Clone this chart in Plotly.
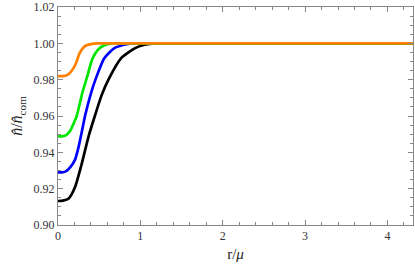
import plotly.graph_objects as go

# Curves: r/mu and n/n_com
r_orange = [0, 0.06, 0.10, 0.14, 0.18, 0.22, 0.26, 0.30, 0.34, 0.40, 0.48, 0.6, 1.0, 2.0, 3.0, 4.31]
n_orange = [0.9820, 0.9820, 0.9823, 0.9835, 0.9858, 0.9892, 0.9943, 0.9972, 0.9988, 0.9996, 1.0, 1.0, 1.0, 1.0, 1.0, 1.0]

r_green = [0, 0.05, 0.10, 0.15, 0.20, 0.227, 0.26, 0.30, 0.348, 0.42, 0.50, 0.58, 0.66, 0.8, 1.2, 2.0, 3.0, 4.31]
n_green = [0.9488, 0.9488, 0.9495, 0.9520, 0.9570, 0.9600, 0.9660, 0.9735, 0.9807, 0.9917, 0.9972, 0.9992, 1.0, 1.0, 1.0, 1.0, 1.0, 1.0]

r_blue = [0, 0.05, 0.10, 0.15, 0.207, 0.25, 0.288, 0.328, 0.40, 0.46, 0.56, 0.68, 0.80, 0.91, 1.1, 1.5, 2.0, 3.0, 4.31]
n_blue = [0.9290, 0.9290, 0.9297, 0.9318, 0.9360, 0.9430, 0.9510, 0.9600, 0.9725, 0.9807, 0.9917, 0.9972, 0.9992, 1.0, 1.0, 1.0, 1.0, 1.0, 1.0]

r_black = [0, 0.06, 0.13, 0.207, 0.288, 0.369, 0.45, 0.53, 0.62, 0.765, 0.93, 1.05, 1.19, 1.4, 1.7, 2.5, 3.0, 4.31]
n_black = [0.9132, 0.9134, 0.9146, 0.9209, 0.9337, 0.9484, 0.9604, 0.9715, 0.9807, 0.9917, 0.9972, 0.9992, 1.0, 1.0, 1.0, 1.0, 1.0, 1.0]

series = [
    (r_black, n_black, "black"),
    (r_blue, n_blue, "#0000FF"),
    (r_green, n_green, "#00E600"),
    (r_orange, n_orange, "#FF8000"),
]

FONT = "Liberation Serif, Times New Roman, serif"

fig = go.Figure()
for xs, ys, c in series:
    fig.add_trace(go.Scatter(x=xs, y=ys, mode="lines",
                             line=dict(color=c, width=2.7, shape="spline", smoothing=0.6),
                             showlegend=False, hoverinfo="skip"))

axis_common = dict(
    showline=True, linecolor="#888888", linewidth=1, mirror="allticks",
    ticks="inside", ticklen=5, tickcolor="#888888", tickwidth=1,
    showgrid=False, zeroline=False, automargin=False,
    tickfont=dict(family=FONT, size=12, color="#333333"),
)

fig.update_xaxes(range=[0, 4.31], tickmode="array", tickvals=[0, 1, 2, 3, 4],
                 minor=dict(ticks="inside", ticklen=3, tickcolor="#888888", dtick=0.2, showgrid=False),
                 title=dict(text="r/<i>μ</i>", font=dict(family=FONT, size=15, color="#222222"), standoff=6),
                 **axis_common)
fig.update_yaxes(range=[0.90, 1.02], tickmode="array",
                 tickvals=[0.90, 0.92, 0.94, 0.96, 0.98, 1.00, 1.02],
                 ticktext=["0.90", "0.92", "0.94", "0.96", "0.98", "1.00", "1.02"],
                 minor=dict(ticks="inside", ticklen=3, tickcolor="#888888", dtick=0.005, showgrid=False),
                 title=dict(text="<i>n̂</i>/<i>n̂</i><sub>com</sub>", font=dict(family=FONT, size=16, color="#222222"), standoff=6),
                 **axis_common)

fig.update_layout(width=415, height=270, margin=dict(l=58, r=2, t=7, b=45),
                  plot_bgcolor="white", paper_bgcolor="white")
fig.write_html("out.html", config={"displayModeBar": False},
               post_script="document.body.style.margin='0';")
